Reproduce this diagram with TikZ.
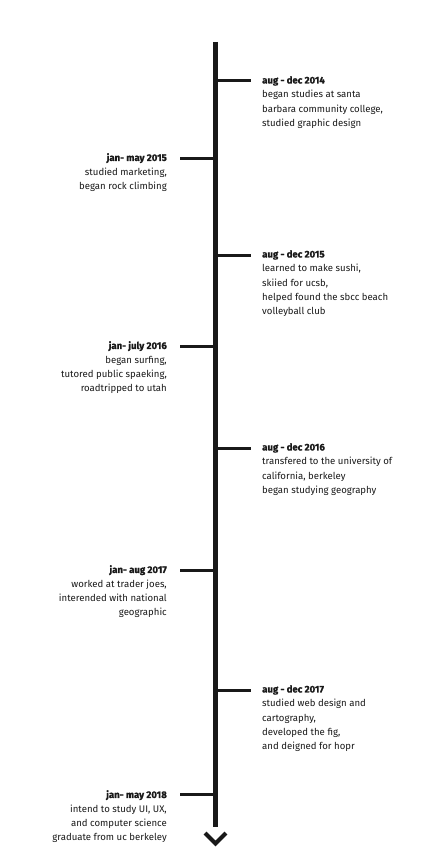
\documentclass[tikz,border=0pt]{standalone}
\usepackage{fontspec}
\setmainfont{Fira Sans}
\newfontfamily\ttlfont[FakeBold=1.2]{Fira Sans}
\begin{document}
\begin{tikzpicture}[x=1pt,y=-1pt,
  axis/.style={line width=4.5pt,black!90},
  tick/.style={line width=3pt,black!90},
  chev/.style={line width=4pt,black!90,line cap=butt,line join=miter},
  rtxt/.style={anchor=north west,align=left,inner sep=0pt,font=\fontsize{9.6}{14.3}\selectfont,text=black!90},
  ltxt/.style={anchor=north east,align=right,inner sep=0pt,font=\fontsize{9.6}{14.3}\selectfont,text=black!90}]
\newcommand\ttl[1]{{\ttlfont\bfseries #1}}
\useasboundingbox[fill=white] (0,0) rectangle (432,864);
\coordinate (top) at (215.5,42);
\coordinate (bot) at (215.5,827);
\draw[axis] (top) -- (bot);
\coordinate (cl) at (205,833);
\coordinate (ca) at (215.5,843.5);
\coordinate (cr) at (226,833);
\draw[chev] (cl) -- (ca) -- (cr);
% right entries
\foreach \n/\y in {a/81,c/255,e/448,g/690}{
  \coordinate (\n0) at (217,\y);
  \coordinate (\n1) at (251,\y);
  \draw[tick] (\n0) -- (\n1);
}
\foreach \n/\y in {b/158,d/346,f/570,h/794}{
  \coordinate (\n0) at (214,\y);
  \coordinate (\n1) at (180,\y);
  \draw[tick] (\n0) -- (\n1);
}
\node[rtxt] (ta) at (262,76) {\ttl{aug - dec 2014}\\began studies at santa\\barbara community college,\\studied graphic design};
\node[ltxt] (tb) at (167,153) {\ttl{jan- may 2015}\\studied marketing,\\began rock climbing};
\node[rtxt] (tc) at (262,250) {\ttl{aug - dec 2015}\\learned to make sushi,\\skiied for ucsb,\\helped found the sbcc beach\\volleyball club};
\node[ltxt] (td) at (167,341) {\ttl{jan- july 2016}\\began surfing,\\tutored public spaeking,\\roadtripped to utah};
\node[rtxt] (te) at (262,443) {\ttl{aug - dec 2016}\\transfered to the university of\\california, berkeley\\began studying geography};
\node[ltxt] (tf) at (167,565) {\ttl{jan- aug 2017}\\worked at trader joes,\\interended with national\\geographic};
\node[rtxt] (tg) at (262,685) {\ttl{aug - dec 2017}\\studied web design and\\cartography,\\developed the fig,\\and deigned for hopr};
\node[ltxt] (th) at (167,790) {\ttl{jan- may 2018}\\intend to study UI, UX,\\and computer science\\graduate from uc berkeley};
\end{tikzpicture}
\end{document}
